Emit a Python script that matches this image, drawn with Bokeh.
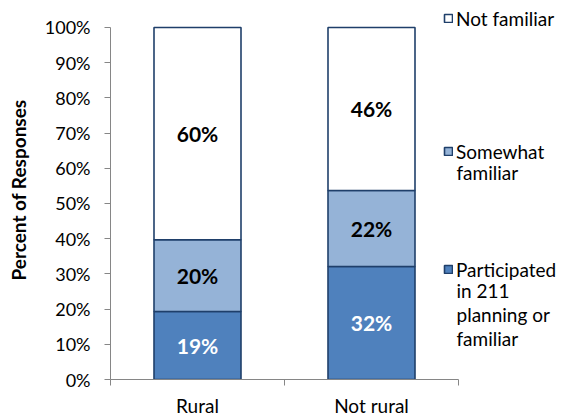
import numpy as np
from bokeh.plotting import figure
from bokeh.models import (ColumnDataSource, Range1d, FixedTicker,
                          PrintfTickFormatter, Legend, LegendItem, Label)
from bokeh.core.properties import value
from bokeh.embed import file_html
from bokeh.resources import INLINE

# ---- data ----
categories = ["Rural", "Not rural"]
participated = [19.3, 32.1]
somewhat = [20.4, 21.6]
not_familiar = [60.3, 46.3]
series_names = ["Participated\nin 211\nplanning or\nfamiliar", "Somewhat\nfamiliar", "Not familiar"]
y_ticks = list(range(0, 101, 10))

# ---- layout / style ----
FONT = "Lato"
EDGE = "#1F3F6A"
AXIS = "#868686"
colors = ["#4F81BD", "#95B3D7", "#FFFFFF"]
label_colors = ["white", "black", "black"]
W, H = 572, 419
LEFT, BOTTOM = 110, 39          # frame starts here; frame spans to top/right edge
PLOT_TOP_PX = 27                # where 100% sits
PLOT_RIGHT_PX = 458             # where the x axis ends
frame_w = W - LEFT
frame_h = H - BOTTOM
cat_px = (PLOT_RIGHT_PX - LEFT) / len(categories)
y_px = (H - BOTTOM - PLOT_TOP_PX) / 100.0

xpos = np.arange(len(categories)) + 0.5
series = [participated, somewhat, not_familiar]

p = figure(width=W, height=H, output_backend="svg", toolbar_location=None,
           x_range=Range1d(0, frame_w / cat_px), y_range=Range1d(0, frame_h / y_px),
           min_border_left=LEFT, min_border_right=0, min_border_top=0, min_border_bottom=BOTTOM)
p.outline_line_color = None
p.xgrid.visible = False
p.ygrid.visible = False
p.background_fill_color = "white"

renderers = []
bottom = np.zeros(len(categories))
label_x, label_y, label_t, label_c = [], [], [], []
for vals, col, lc in zip(series, colors, label_colors):
    vals = np.array(vals)
    top = bottom + vals
    src = ColumnDataSource(dict(x=xpos, bottom=bottom, top=top))
    r = p.vbar(x="x", bottom="bottom", top="top", width=0.5, source=src,
               fill_color=col, line_color=EDGE, line_width=1.6)
    renderers.append(r)
    label_x += list(xpos)
    label_y += list((bottom + top) / 2)
    label_t += [f"{round(v)}%" for v in vals]
    label_c += [lc] * len(vals)
    bottom = top

lsrc = ColumnDataSource(dict(x=label_x, y=label_y, t=label_t, c=label_c))
p.text(x="x", y="y", text="t", text_color="c", source=lsrc, text_align="center",
       text_baseline="middle", text_font=value(FONT), text_font_style="bold",
       text_font_size="21px")

# y axis
ya = p.yaxis[0]
ya.bounds = (0, 100)
ya.ticker = FixedTicker(ticks=y_ticks)
ya.formatter = PrintfTickFormatter(format="%d%%")
ya.axis_label = "Percent of Responses"
ya.axis_label_text_font = FONT
ya.axis_label_text_font_style = "bold"
ya.axis_label_text_font_size = "19px"
ya.axis_label_text_color = "black"
ya.axis_label_standoff = 12
ya.major_label_text_font = FONT
ya.major_label_text_font_size = "18px"
ya.major_label_text_color = "black"
ya.major_label_standoff = 14
ya.axis_line_color = AXIS
ya.major_tick_line_color = AXIS
ya.major_tick_out = 6
ya.major_tick_in = 0
ya.minor_tick_line_color = None

# x axis
xa = p.xaxis[0]
xa.bounds = (0, len(categories))
bounds = list(np.arange(len(categories) + 1).astype(float))
xa.ticker = FixedTicker(ticks=list(xpos), minor_ticks=bounds)
xa.major_label_overrides = {float(x): c for x, c in zip(xpos, categories)}
xa.major_label_text_font = FONT
xa.major_label_text_font_size = "19px"
xa.major_label_text_color = "black"
xa.major_label_standoff = 8
xa.axis_line_color = AXIS
xa.major_tick_line_color = None
xa.major_tick_out = 0
xa.minor_tick_line_color = AXIS
xa.minor_tick_out = 6
xa.minor_tick_in = 0

# legends: glyph beside the first line of each entry, further lines below it
LEG_X = 333
GLYPH, STANDOFF, LINE_PX = 10, 3, 23
first_line_centers = [270, 152, 19]   # page y of each entry's first line
for r, name, cy in zip(renderers, series_names, first_line_centers):
    lines = name.split("\n")
    bottom_rel = frame_h - (cy + LINE_PX / 2)
    lg = Legend(items=[LegendItem(label=lines[0], renderers=[r])], location=(LEG_X, bottom_rel),
                glyph_width=GLYPH, glyph_height=GLYPH, label_standoff=STANDOFF,
                label_height=LINE_PX,
                label_text_font=FONT, label_text_font_size="19px",
                label_text_color="black", padding=0, margin=0, spacing=0,
                border_line_color=None, background_fill_alpha=0)
    p.add_layout(lg, "center")
    if len(lines) > 1:
        p.add_layout(Label(x=LEG_X + GLYPH + STANDOFF, y=bottom_rel + 2.5, x_units="screen",
                           y_units="screen", text="\n".join(lines[1:]),
                           text_font=FONT, text_font_size="19px", text_color="black",
                           text_align="left", text_baseline="top", text_line_height=1.06))

open("out.html", "w").write(file_html(p, INLINE))
